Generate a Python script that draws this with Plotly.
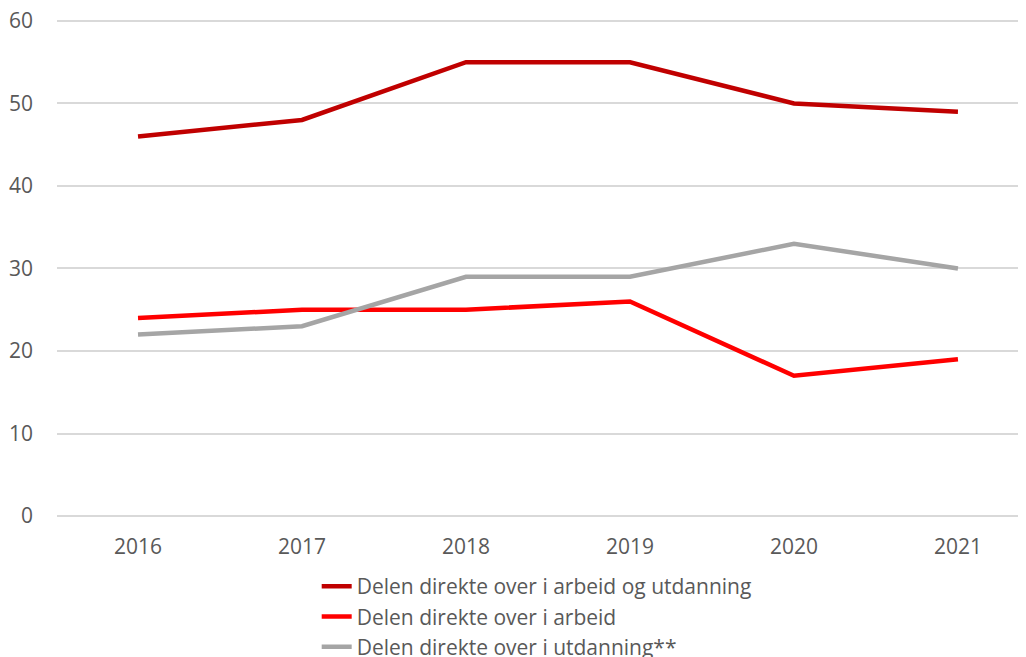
import plotly.graph_objects as go

years = ["2016", "2017", "2018", "2019", "2020", "2021"]
arbeid_utdanning = [46, 48, 55, 55, 50, 49]
arbeid = [24, 25, 25, 26, 17, 19]
utdanning = [22, 23, 29, 29, 33, 30]
y_ticks = [0, 10, 20, 30, 40, 50, 60]
names = ["Delen direkte over i arbeid og utdanning",
         "Delen direkte over i arbeid",
         "Delen direkte over i utdanning**"]
colors = ["#C00000", "#FF0000", "#A5A5A5"]

fig = go.Figure()
for vals, name, col in zip([arbeid_utdanning, arbeid, utdanning], names, colors):
    fig.add_trace(go.Scatter(x=years, y=vals, name=name, mode="lines",
                             line=dict(color=col, width=4.5)))

font_family = "Open Sans, Liberation Sans, sans-serif"
fig.update_layout(
    width=1018, height=649,
    margin=dict(l=49, r=0, t=11, b=141, autoexpand=False),
    paper_bgcolor="white", plot_bgcolor="white",
    font=dict(family=font_family, size=21, color="#595959"),
    showlegend=True,
    legend=dict(orientation="v", x=0.268, xanchor="left", y=-0.1006, yanchor="top",
                font=dict(size=21, color="#595959"), bgcolor="rgba(0,0,0,0)",
                traceorder="normal"),
    xaxis=dict(type="category", range=[-0.494, 5.415], showgrid=False,
               showline=False, zeroline=False, ticks="", ticklabelstandoff=16,
               automargin=False),
    yaxis=dict(range=[0, 60.24], tickvals=y_ticks, showgrid=True, gridcolor="#D9D9D9",
               gridwidth=1.5, zeroline=True, zerolinecolor="#D9D9D9",
               zerolinewidth=1.5, showline=False, ticks="",
               ticklabelstandoff=23, automargin=False, ticklabeloverflow="allow"),
)
fig.write_html("out.html")
